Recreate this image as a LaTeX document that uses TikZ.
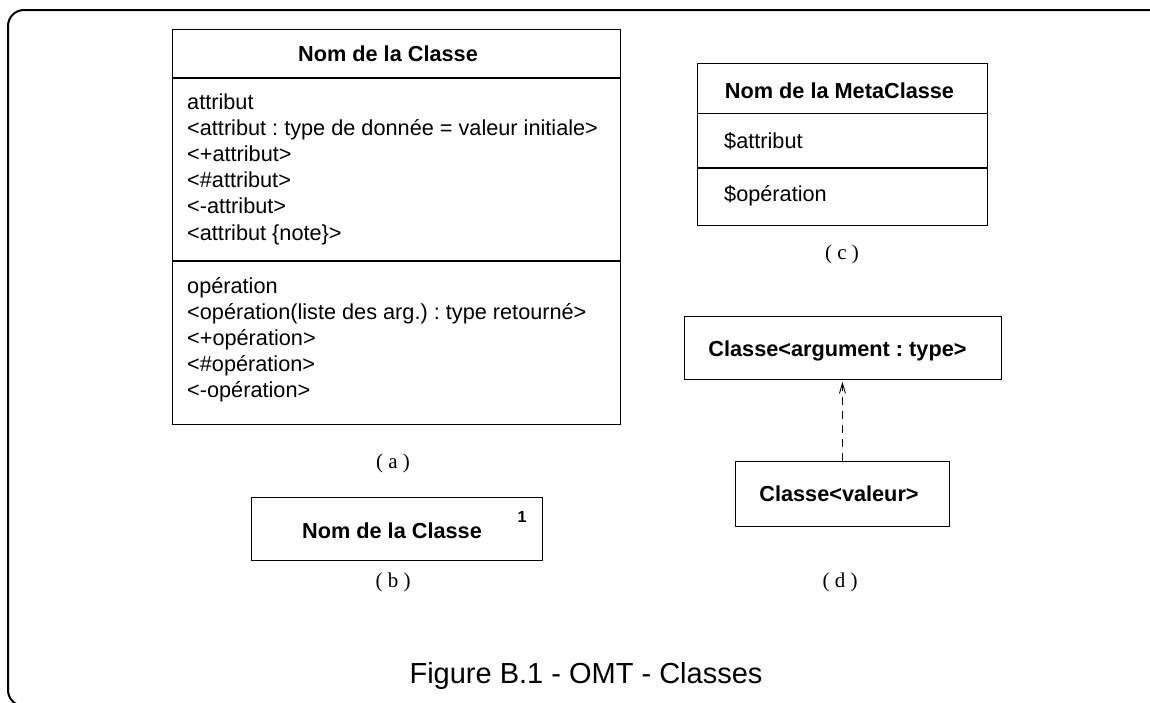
\documentclass[tikz,border=0pt]{standalone}
\usepackage{fontspec}
\setmainfont{Liberation Sans}
\newfontfamily\tagfont{Liberation Serif}
\usetikzlibrary{arrows.meta,positioning}
\frenchspacing

\begin{document}
\begin{tikzpicture}[x=1pt,y=-1pt,
  box/.style={draw,line width=0.9pt,inner sep=0pt,anchor=north west},
  title/.style={font=\fontsize{21.7}{26}\selectfont\bfseries,anchor=base,inner sep=0pt},
  item/.style={font=\fontsize{21.7}{26}\selectfont,anchor=base west,inner sep=0pt},
  tag/.style={font=\fontsize{21}{24}\selectfont\tagfont,anchor=base,inner sep=0pt},
  dep/.style={-{Straight Barb[length=10pt,width=6pt]},line width=0.9pt,dash pattern=on 8pt off 6pt,shorten >=2pt}]
\useasboundingbox (0,0) rectangle (1150,702);
\clip (0,0) rectangle (1150,702);
\draw[line width=2pt,rounded corners=16pt] (8,10) rectangle (1164,706);

% (a) full class
\node[box,minimum width=448pt,minimum height=48pt] (aHead) at (172,29) {};
\node[box,minimum width=448pt,minimum height=182pt] (aAttr) at (aHead.south west) {};
\node[box,minimum width=448pt,minimum height=163pt] (aOps) at (aAttr.south west) {};
\node[title] (aName) at (388,61) {Nom de la Classe};
\foreach \t [count=\i] in {attribut,<attribut : type de donnée = valeur initiale>,<+attribut>,<\#attribut>,<-attribut>,<attribut \{note\}>}
  \node[item] (attr\i) at (187,{109+26.2*(\i-1)}) {\t};
\foreach \t [count=\i] in {opération,<opération(liste des arg.) : type retourné>,<+opération>,<\#opération>,<-opération>}
  \node[item] (op\i) at (187,{293+26.2*(\i-1)}) {\t};
\node[tag] (tagA) at (393,468) {( a )};

% (b) short class
\node[box,minimum width=291pt,minimum height=63pt] (bBox) at (251,497) {};
\node[title] (bName) at (392,538) {Nom de la Classe};
\node[font=\fontsize{16}{18}\selectfont\bfseries,anchor=base,inner sep=0pt] (bMult) at (522,522) {1};
\node[tag] (tagB) at (393,587.5) {( b )};

% (c) metaclass
\node[box,minimum width=290pt,minimum height=50pt] (cHead) at (697,62.5) {};
\node[box,minimum width=290pt,minimum height=54pt] (cAttr) at (cHead.south west) {};
\node[box,minimum width=290pt,minimum height=57pt] (cOps) at (cAttr.south west) {};
\node[title] (cName) at (839.5,98) {Nom de la MetaClasse};
\node[item] (cAttrText) at (724,148) {\$attribut};
\node[item] (cOpsText) at (724,201.5) {\$opération};
\node[tag] (tagC) at (842,259.5) {( c )};

% (d) parameterized class
\node[box,minimum width=317pt,minimum height=63pt] (argument) at (684,316) {};
\node[title] (argName) at (837.5,356.7) {Classe<argument : type>};
\node[box,minimum width=214pt,minimum height=65pt] (valeur) at (735,461) {};
\node[title] (valName) at (839,501.7) {Classe<valeur>};
\draw[dep] (valeur.north) -- (valeur.north |- argument.south);
\node[tag] (tagD) at (840,587.5) {( d )};

\node[font=\fontsize{29}{34}\selectfont,anchor=base,inner sep=0pt] (caption) at (586,683) {Figure B.1 - OMT - Classes};
\end{tikzpicture}
\end{document}
